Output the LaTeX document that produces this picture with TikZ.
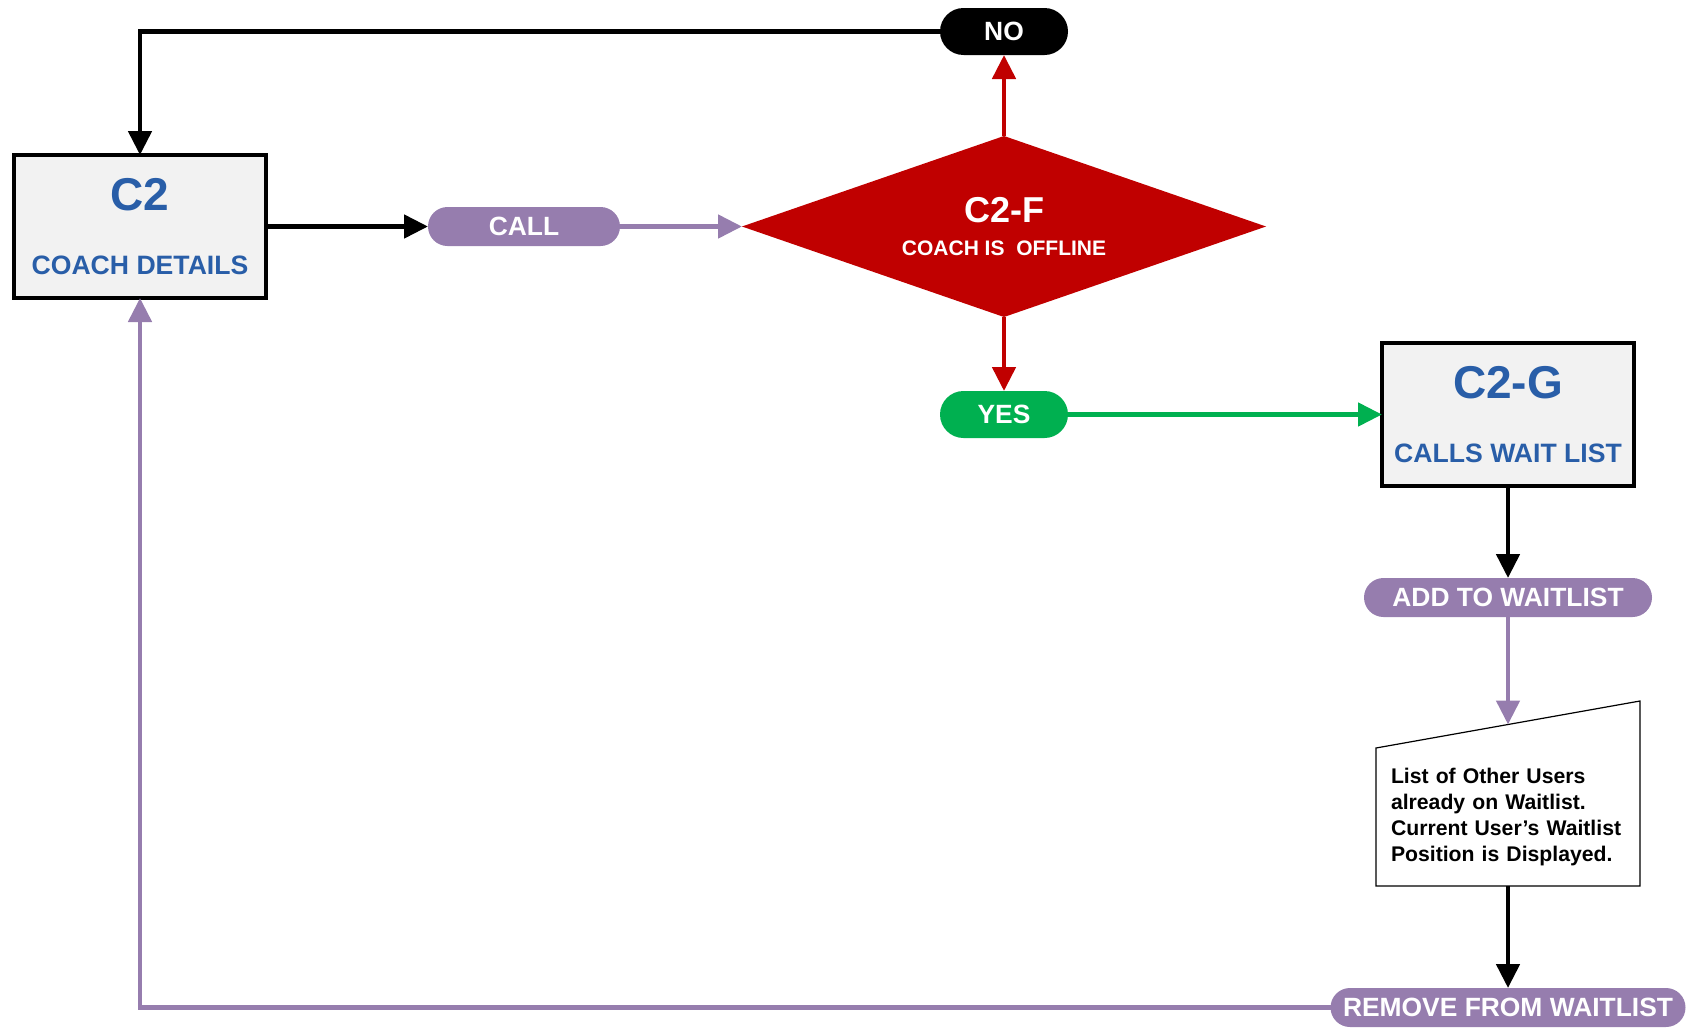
\documentclass[tikz,border=0pt]{standalone}
\usepackage{fontspec}
\setmainfont{Liberation Sans}
\usetikzlibrary{arrows.meta,positioning,shapes}

\definecolor{coachblue}{RGB}{41,94,168}
\definecolor{boxgray}{RGB}{242,242,242}
\definecolor{offred}{RGB}{192,0,0}
\definecolor{yesgreen}{RGB}{0,176,80}
\definecolor{waitpurple}{RGB}{150,125,174}

\begin{document}
\begin{tikzpicture}[node distance=40pt, >={Triangle[length=12pt,width=11.5pt]}, line width=2.4pt]
	\tikzstyle{rect_b}=[draw, rectangle, fill=boxgray, minimum width=126pt, minimum height=71.5pt, inner sep=0pt, outer sep=0pt, align=center, text=coachblue, font=\bfseries\fontsize{13.3}{32}\selectfont]
	\tikzstyle{diam}=[diamond, aspect=2.9, fill=offred, minimum width=262pt, minimum height=90.5pt, inner sep=0pt, outer sep=0pt, align=center, text=white, font=\bfseries\fontsize{10.5}{16.5}\selectfont]
	\tikzstyle{pill}=[rectangle, rounded corners=9.75pt, fill=waitpurple, minimum height=19.5pt, inner sep=0pt, outer sep=0pt, text=white, font=\bfseries\fontsize{13.2}{15}\selectfont]
	\tikzstyle{answer}=[pill, minimum width=64pt, minimum height=23.5pt, rounded corners=11.75pt]
	\tikzstyle{note}=[rectangle, minimum width=132pt, minimum height=69pt, text width=117pt, inner xsep=7.5pt, inner ysep=0pt, outer sep=0pt, align=left, font=\bfseries\fontsize{10.6}{13}\selectfont]

	\useasboundingbox (0,0) rectangle (843pt,-514pt);

	\node[rect_b] (c2) at (70pt,-113.25pt) {{\fontsize{23}{32}\selectfont C2}\\COACH DETAILS};
	\node[pill, minimum width=96pt] (call) [right=81pt of c2] {CALL};
	\node[diam] (off) [right=61pt of call] {{\fontsize{18}{16.5}\selectfont C2-F}\\COACH IS\ \ OFFLINE};
	\node[answer, fill=black] (no) [above=40.5pt of off] {NO};
	\node[answer, fill=yesgreen] (yes) [below=37pt of off] {YES};
	\node[rect_b] (c2g) [right=157pt of yes] {{\fontsize{23}{32}\selectfont C2-G}\\CALLS WAIT LIST};
	\node[pill, minimum width=144pt] (add) [below=46pt of c2g] {ADD TO WAITLIST};
	\node[note] (list) [below=65.5pt of add] {List of Other Users\\already on Waitlist.\\Current User’s Waitlist\\Position is Displayed.};
	\node[pill, minimum width=177.5pt] (remove) [below=51pt of list] {REMOVE FROM WAITLIST};

	\draw[line width=0.6pt] (list.south west) -- (list.north west) -- ([yshift=23.5pt]list.north east) -- (list.south east) -- cycle;
	\coordinate (listtop) at ([yshift=11.75pt]list.north);

	\draw[->] (no) -| (c2);
	\draw[->] (c2) -- (call);
	\draw[->,waitpurple] (call) -- (off);
	\draw[->,offred] (off) -- (no);
	\draw[->,offred] (off) -- (yes);
	\draw[->,yesgreen] (yes) -- (c2g);
	\draw[->] (c2g) -- (add);
	\draw[->,waitpurple] (add) -- (listtop);
	\draw[->] (list) -- (remove);
	\draw[->,waitpurple] (remove) -| (c2);
\end{tikzpicture}
\end{document}
